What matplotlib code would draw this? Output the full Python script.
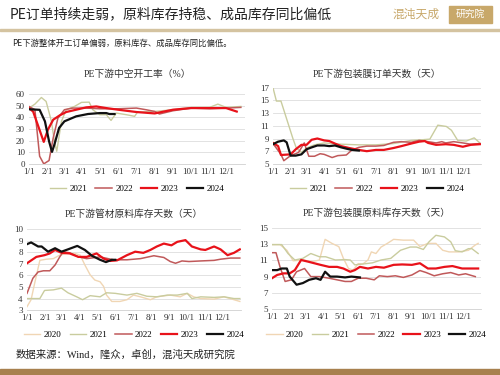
import matplotlib
matplotlib.use('Agg')
import matplotlib.pyplot as plt
from matplotlib.patches import Rectangle

plt.rcParams['font.family'] = ['Liberation Serif', 'Noto Sans CJK SC', 'DejaVu Sans']

month_days = [0, 31, 59, 90, 120, 151, 181, 212, 243, 273, 304, 334]
month_labels = ['1/1', '2/1', '3/1', '4/1', '5/1', '6/1', '7/1', '8/1', '9/1', '10/1', '11/1', '12/1']

colors = {'2020': '#f0d6b4', '2021': '#c9cc9e', '2022': '#c0595a', '2023': '#e8121a', '2024': '#111111'}
widths = {'2020': 1.0, '2021': 1.0, '2022': 1.1, '2023': 1.6, '2024': 1.6}

# PE下游中空开工率
op_2021_d = [0, 10, 21, 29, 38, 43, 47, 55, 63, 77, 89, 102, 108, 120, 131, 139, 148, 165, 179, 184, 213, 244, 275, 306, 320, 334, 359]
op_2021 = [48, 51.4, 57.1, 53.7, 36.6, 19.4, 10.9, 36.6, 46.6, 49.4, 52.9, 53.1, 46.6, 42.3, 42.3, 37.4, 43.7, 42.3, 40.9, 44.6, 45.1, 46.6, 48.6, 48.6, 51.4, 48.6, 49.4]
op_2022_d = [0, 10, 18, 25, 34, 41, 49, 60, 74, 97, 120, 151, 182, 198, 213, 221, 244, 275, 306, 334, 359]
op_2022 = [49.4, 46.6, 6.6, 0, 2.9, 22.3, 39.4, 46.6, 48, 48, 47.4, 47.4, 48, 46.6, 45.1, 42.9, 45.7, 48, 47.4, 48, 48.6]
op_2023_d = [0, 7, 25, 32, 41, 52, 63, 80, 97, 114, 131, 151, 182, 213, 244, 275, 306, 334, 352]
op_2023 = [48, 45, 18.9, 29.4, 38, 41.7, 44.6, 46.6, 48.6, 49.4, 48, 46.6, 44.6, 43.4, 46.6, 48, 48, 48, 45]
op_2024_d = [0, 18, 27, 34, 39, 43, 51, 60, 80, 100, 120, 131, 136, 145]
op_2024 = [47, 46.5, 36.6, 19.4, 10.3, 16.6, 30.9, 36.6, 40.9, 42.9, 43.7, 43.7, 42.9, 42.9]

# PE下游包装膜订单天数
ord_2021_d = [0, 6, 14, 35, 41, 50, 59, 73, 90, 120, 151, 181, 212, 243, 262, 276, 290, 305, 314, 325, 340, 354, 364]
ord_2021 = [17, 14.9, 14.9, 9.0, 7.5, 6.8, 7.5, 8.0, 8.3, 8.1, 8.0, 8.0, 8.2, 8.7, 8.8, 8.9, 11.1, 10.9, 10.3, 8.7, 8.6, 9.1, 8.3]
ord_2022_d = [0, 14, 19, 31, 45, 55, 63, 73, 83, 90, 104, 114, 129, 139, 151, 165, 181, 195, 212, 226, 243, 257, 273, 287, 297, 304, 318, 334, 348, 364]
ord_2022 = [8.2, 6.5, 5.5, 6.3, 6.8, 8.3, 6.2, 6.2, 6.6, 6.5, 6.0, 6.3, 6.4, 7.2, 7.6, 7.8, 7.8, 7.9, 8.4, 8.5, 8.4, 8.7, 8.5, 8.3, 8.5, 8.3, 8.5, 8.3, 8.1, 8.2]
ord_2023_d = [0, 9, 14, 31, 40, 50, 59, 68, 78, 90, 99, 109, 120, 134, 151, 165, 181, 195, 212, 226, 243, 257, 267, 273, 287, 304, 318, 334, 348, 364]
ord_2023 = [8.3, 7.8, 6.4, 6.5, 7.3, 8.0, 8.0, 8.8, 9.0, 8.7, 8.6, 8.2, 7.8, 7.5, 7.2, 7.0, 7.2, 7.2, 7.5, 7.8, 8.2, 8.5, 8.6, 8.3, 8.0, 8.1, 8.0, 7.7, 8.0, 8.1]
ord_2024_d = [0, 9, 19, 24, 31, 40, 50, 59, 68, 78, 90, 99, 109, 120, 129, 139, 151]
ord_2024 = [8.1, 8.5, 8.7, 8.4, 6.3, 6.3, 6.5, 7.3, 7.6, 7.9, 7.9, 7.8, 7.9, 7.6, 7.4, 7.2, 7.1]

# PE下游管材原料库存天数
pipe_2020_d = [0, 7, 13, 22, 33, 45, 56, 68, 82, 91, 99, 108, 116, 125, 131, 136, 145, 159, 171, 182, 194, 211, 222, 245, 262, 274, 285, 297, 320, 337, 354, 364]
pipe_2020 = [3.3, 3.9, 5.3, 7.3, 7.4, 7.45, 7.75, 7.9, 7.9, 7.75, 6.9, 6.05, 5.6, 5.45, 5.05, 4.3, 3.75, 3.75, 3.9, 4.3, 4.15, 3.9, 4.15, 4.3, 4.15, 4.45, 4.15, 4.0, 3.95, 4.15, 3.9, 3.75]
pipe_2021_d = [0, 22, 30, 45, 59, 70, 85, 95, 108, 125, 136, 151, 171, 188, 205, 222, 240, 257, 274, 282, 297, 320, 337, 354, 364]
pipe_2021 = [4.0, 4.0, 4.7, 4.75, 4.9, 4.5, 4.15, 3.9, 4.25, 4.15, 4.5, 4.45, 4.3, 4.45, 4.2, 4.15, 4.3, 4.3, 4.45, 4.0, 4.15, 4.1, 4.15, 4.0, 4.0]
pipe_2022_d = [0, 10, 19, 28, 39, 48, 56, 62, 73, 88, 102, 125, 148, 171, 194, 217, 234, 245, 254, 265, 277, 297, 320, 331, 348, 364]
pipe_2022 = [4.45, 5.75, 6.3, 6.4, 6.4, 6.9, 7.6, 8.05, 7.95, 7.6, 7.45, 7.6, 7.35, 7.35, 7.45, 7.7, 7.55, 7.2, 7.05, 7.25, 7.2, 7.25, 7.3, 7.4, 7.5, 7.5]
pipe_2023_d = [0, 16, 30, 39, 48, 59, 73, 88, 102, 119, 131, 142, 154, 171, 185, 199, 211, 222, 234, 247, 257, 271, 282, 297, 305, 320, 331, 343, 354, 364]
pipe_2023 = [7.05, 7.6, 7.75, 7.9, 8.2, 7.95, 7.9, 7.6, 7.6, 7.9, 7.45, 7.25, 7.3, 7.75, 8.05, 7.95, 8.2, 8.5, 8.75, 8.6, 8.9, 9.05, 8.5, 8.25, 8.2, 8.5, 8.25, 7.75, 7.95, 8.25]
pipe_2024_d = [0, 7, 19, 25, 36, 48, 59, 70, 86, 99, 111, 125, 135, 145, 151]
pipe_2024 = [8.7, 8.85, 8.5, 8.5, 8.05, 8.35, 8.05, 8.25, 8.55, 8.2, 7.7, 7.35, 7.15, 7.35, 7.35]

# PE下游包装膜原料库存天数
inv_2020_d = [0, 14, 26, 37, 54, 71, 83, 93, 105, 117, 125, 134, 142, 151, 159, 168, 174, 182, 191, 202, 213, 230, 248, 259, 273, 287, 299, 310, 327, 344, 356, 361]
inv_2020 = [12.95, 12.95, 12.25, 10.95, 11.05, 10.85, 11.05, 13.6, 13.1, 12.7, 11.25, 10.0, 9.8, 10.6, 10.55, 11.05, 12.05, 11.85, 12.65, 13.1, 13.6, 13.5, 13.5, 12.7, 13.1, 13.1, 12.25, 12.05, 12.05, 12.25, 12.9, 13.1]
inv_2021_d = [0, 17, 28, 40, 54, 68, 83, 94, 111, 128, 137, 145, 159, 176, 191, 208, 225, 242, 253, 265, 275, 287, 302, 313, 321, 333, 344, 350, 361]
inv_2021 = [12.95, 12.95, 11.85, 11.05, 11.25, 11.85, 11.45, 11.45, 11.05, 11.1, 11.05, 10.45, 10.55, 10.7, 11.05, 11.25, 12.25, 12.65, 12.65, 12.35, 13.3, 14.1, 13.9, 13.3, 12.2, 12.05, 12.45, 12.45, 11.85]
inv_2022_d = [0, 7, 14, 23, 34, 43, 57, 68, 83, 100, 114, 128, 139, 151, 165, 179, 188, 202, 216, 230, 245, 259, 270, 284, 299, 313, 327, 339, 356]
inv_2022 = [11.95, 11.95, 10.2, 8.4, 8.6, 9.6, 10.0, 9.0, 9.0, 8.8, 8.6, 8.4, 8.4, 8.8, 8.8, 8.6, 9.1, 9.0, 9.1, 8.9, 9.2, 9.75, 9.5, 9.1, 9.35, 9.5, 9.2, 9.35, 9.0]
inv_2023_d = [0, 9, 20, 31, 40, 51, 63, 74, 85, 100, 114, 125, 137, 145, 154, 168, 182, 196, 213, 228, 245, 259, 273, 287, 302, 316, 333, 350, 361]
inv_2023 = [8.8, 9.2, 9.4, 9.4, 9.8, 11.05, 10.85, 10.65, 10.45, 10.2, 10.2, 10.0, 9.6, 9.8, 10.2, 10.0, 10.2, 10.1, 10.45, 10.5, 10.45, 10.65, 10.0, 10.0, 10.2, 10.3, 10.0, 10.0, 10.0]
inv_2024_d = [0, 9, 17, 26, 31, 43, 54, 65, 77, 85, 93, 102, 114, 128, 139, 154]
inv_2024 = [9.8, 9.8, 10.0, 10.0, 9.0, 8.0, 8.2, 8.6, 8.8, 8.6, 9.6, 9.0, 9.0, 8.9, 9.0, 8.9]


def panel(fig, rect, title, title_y, series, yticks, legend_y):
    ax = fig.add_axes(rect)
    for year, days, vals in series:
        ax.plot(days, vals, color=colors[year], lw=widths[year], label=year)
    ax.set_xlim(0, 366)
    ax.set_ylim(yticks[0], yticks[-1])
    ax.set_yticks(yticks)
    ax.set_xticks(month_days)
    ax.set_xticklabels(month_labels)
    ax.tick_params(length=0, labelsize=6.5, colors='#333333', pad=3)
    ax.grid(axis='y', color='#dddddd', lw=0.6)
    ax.set_axisbelow(True)
    for s in ['top', 'right', 'left']:
        ax.spines[s].set_visible(False)
    ax.spines['bottom'].set_color('#d0d0d0')
    ax.spines['bottom'].set_linewidth(0.6)
    # title placed at a fixed figure height, like the reference
    fig.text(rect[0] + rect[2] / 2, title_y, title, fontsize=7, color='#333333',
             ha='center', va='center')
    ax.legend(loc='center', bbox_to_anchor=(0.5, legend_y), ncol=len(series), frameon=False,
              fontsize=6.5, handlelength=1.8, columnspacing=0.9, handletextpad=0.4)
    return ax


def main():
    fig = plt.figure(figsize=(5, 3.75), dpi=100)

    fig.text(0.02, 0.962, 'PE订单持续走弱，原料库存持稳、成品库存同比偏低', fontsize=10,
             color='#222222', va='center', family=['Noto Sans CJK SC'])
    fig.text(0.785, 0.962, '混沌天成', fontsize=8.5, color='#c8a86a', va='center',
             family=['Noto Sans CJK SC'])
    fig.patches.append(Rectangle((0.898, 0.94), 0.085, 0.045, transform=fig.transFigure,
                                 color='#c8a86a', zorder=1))
    fig.text(0.9405, 0.962, '研究院', fontsize=7, color='white', va='center', ha='center',
             family=['Noto Sans CJK SC'], zorder=2)
    fig.patches.append(Rectangle((0, 0.918), 1, 0.006, transform=fig.transFigure,
                                 color='#d4c3a0', zorder=1))
    fig.text(0.024, 0.883, 'PE下游整体开工订单偏弱，原料库存、成品库存同比偏低。', fontsize=6,
             color='#222222', va='center', family=['Noto Sans CJK SC'])

    panel(fig, [0.058, 0.563, 0.432, 0.186], 'PE下游中空开工率（%）', 0.803,
          [('2021', op_2021_d, op_2021), ('2022', op_2022_d, op_2022),
           ('2023', op_2023_d, op_2023), ('2024', op_2024_d, op_2024)],
          [0, 10, 20, 30, 40, 50, 60], -0.36)
    panel(fig, [0.546, 0.563, 0.416, 0.203], 'PE下游包装膜订单天数（天）', 0.803,
          [('2021', ord_2021_d, ord_2021), ('2022', ord_2022_d, ord_2022),
           ('2023', ord_2023_d, ord_2023), ('2024', ord_2024_d, ord_2024)],
          [5, 7, 9, 11, 13, 15, 17], -0.33)
    panel(fig, [0.054, 0.173, 0.428, 0.216], 'PE下游管材原料库存天数（天）', 0.43,
          [('2020', pipe_2020_d, pipe_2020), ('2021', pipe_2021_d, pipe_2021),
           ('2022', pipe_2022_d, pipe_2022), ('2023', pipe_2023_d, pipe_2023),
           ('2024', pipe_2024_d, pipe_2024)],
          [3, 4, 5, 6, 7, 8, 9, 10], -0.31)
    panel(fig, [0.544, 0.176, 0.418, 0.216], 'PE下游包装膜原料库存天数（天）', 0.432,
          [('2020', inv_2020_d, inv_2020), ('2021', inv_2021_d, inv_2021),
           ('2022', inv_2022_d, inv_2022), ('2023', inv_2023_d, inv_2023),
           ('2024', inv_2024_d, inv_2024)],
          [5, 7, 9, 11, 13, 15], -0.32)

    fig.text(0.032, 0.053, '数据来源：Wind，隆众，卓创，混沌天成研究院', fontsize=7.5,
             color='#222222', va='center')
    fig.patches.append(Rectangle((0, 0), 1, 0.016, transform=fig.transFigure,
                                 color='#a8804e', zorder=1))

    fig.savefig('out.png', dpi=100)


if __name__ == '__main__':
    main()
